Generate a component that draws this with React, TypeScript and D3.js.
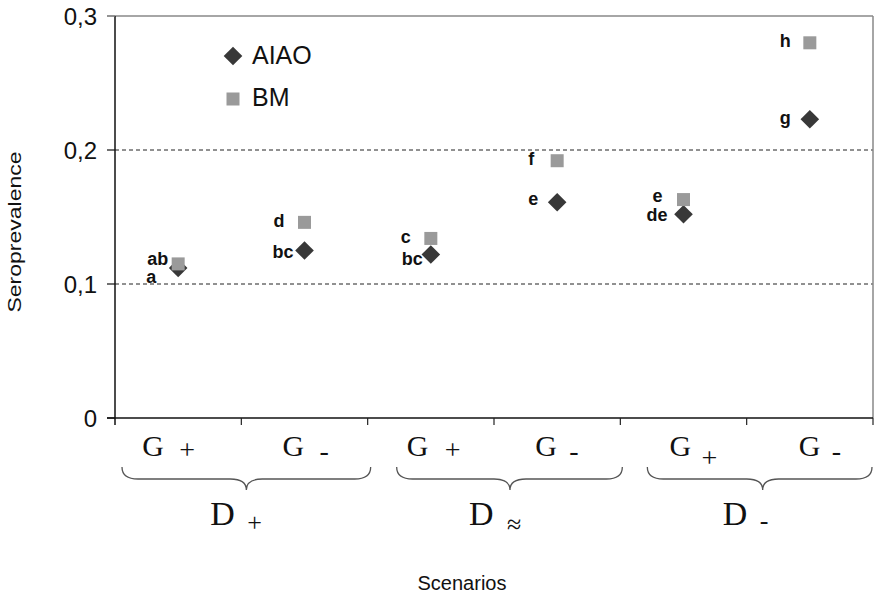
import React from "react";
import * as d3 from "d3";

const categories = ["D+ G+", "D+ G-", "D≈ G+", "D≈ G-", "D- G+", "D- G-"];
const gSigns = ["+", "-", "+", "-", "+", "-"];
const groups = ["+", "≈", "-"];
const groupMembers = [[0, 1], [2, 3], [4, 5]];
const aiao = [0.112, 0.125, 0.122, 0.161, 0.152, 0.223];
const bm = [0.115, 0.146, 0.134, 0.192, 0.163, 0.28];
const aiaoLetters = ["a", "bc", "bc", "e", "de", "g"];
const bmLetters = ["ab", "d", "c", "f", "e", "h"];
const yTicks = [0, 0.1, 0.2, 0.3];
const gridTicks = [0.1, 0.2];
const seriesNames = ["AIAO", "BM"];
const xTitle = "Scenarios";
const yTitle = "Seroprevalence";

// label offsets (style): [dx, dy] relative to the point
const aiaoLabelOff = [[-22, 15], [-11, 7], [-8, 10], [-19, 3], [-16, 7], [-19, 5]];
const bmLabelOff = [[-10, 1], [-20, 5], [-20, 5], [-23, 4], [-21, 2], [-19, 4]];
// G label offsets: [gStart, signStart, signCenterY]
const gLabelOff = [[-36, 1, 452], [-22, 15, 453], [-24, 14, 452], [-22, 12, 453], [-14, 18, 460], [-11, 22, 453]];
// brace offsets [startOff, endOff, tipOff]
const braceOff = [[7, 3, 5], [29, 2, 16], [27, -1, 16]];
// D label offsets [dStart, signStart(after D), signCenterY]
const dLabelOff = [[-31, 13, 524], [-25, 14, 526], [-24, 13, 522]];

const W = 875;
const H = 596;
const left = 115;
const right = 873;
const top = 16;
const bottom = 418;

const DARK = "#383838";
const LIGHT = "#9a9a9a";
const SANS = "'Liberation Sans', Arial, sans-serif";
const SERIF = "'Liberation Serif', 'Times New Roman', serif";

export default function App() {
  const x = d3.scaleBand().domain(categories).range([left, right]).padding(0);
  const y = d3.scaleLinear().domain([0, 0.3]).range([bottom, top]);
  const bw = x.bandwidth();
  const cx = (i: number) => (x(categories[i]) as number) + bw / 2;
  const diamond = d3.symbol().type(d3.symbolDiamond2).size(2 * 10.5 * 10.5)();
  const fmt = (v: number) => (v === 0 ? "0" : d3.format(".1f")(v).replace(".", ","));

  const brace = (x1: number, x2: number, tip: number) => {
    const yT = 467, yM = 479, yP = 490, r = 16;
    return `M${x1},${yT} Q${x1},${yM} ${x1 + r},${yM} L${tip - r},${yM} Q${tip},${yM} ${tip},${yP} Q${tip},${yM} ${tip + r},${yM} L${x2 - r},${yM} Q${x2},${yM} ${x2},${yT}`;
  };

  return (
    <div style={{ position: "fixed", left: 0, top: 0, width: W, height: H, background: "#fff" }}>
      <svg width={W} height={H} viewBox={`0 0 ${W} ${H}`} style={{ display: "block" }}>
        <rect x={0} y={0} width={W} height={H} fill="#ffffff" />
        {/* gridlines */}
        {gridTicks.map((t) => (
          <line key={t} x1={left} x2={right} y1={y(t)} y2={y(t)} stroke="#222" strokeWidth={1} strokeDasharray="4,3" />
        ))}
        {/* top & right border */}
        <line x1={left - 8} x2={right} y1={y(0.3)} y2={y(0.3)} stroke="#888" strokeWidth={1.5} />
        <line x1={right} x2={right} y1={top} y2={bottom} stroke="#888" strokeWidth={1.5} />
        {/* y axis */}
        <line x1={left} x2={left} y1={top} y2={bottom + 7} stroke="#111" strokeWidth={1.5} />
        {yTicks.map((t) => (
          <g key={t}>
            <line x1={left - 8} x2={left} y1={y(t)} y2={y(t)} stroke={t === 0.3 ? "#888" : "#111"} strokeWidth={1.2} />
            <text x={97} y={y(t)} dy="0.36em" textAnchor="end" fontFamily={SANS} fontSize={24} fill="#111">
              {fmt(t)}
            </text>
          </g>
        ))}
        {/* x axis */}
        <line x1={left - 8} x2={right} y1={bottom} y2={bottom} stroke="#111" strokeWidth={1.5} />
        {categories.map((c) => (
          <line key={c} x1={(x(c) as number) + bw} x2={(x(c) as number) + bw} y1={bottom} y2={bottom + 7} stroke="#222" strokeWidth={1.2} />
        ))}
        {/* G labels */}
        {categories.map((c, i) => (
          <g key={"g" + c} fontFamily={SERIF} fill="#111">
            <text x={cx(i) + gLabelOff[i][0]} y={456} fontSize={30}>G</text>
            <text x={cx(i) + gLabelOff[i][1]} y={gLabelOff[i][2]} dy="0.26em" fontSize={28}>{gSigns[i]}</text>
          </g>
        ))}
        {/* braces and D labels */}
        {groups.map((g, gi) => {
          const [a, b] = groupMembers[gi];
          const x1 = x(categories[a]) as number;
          const x2 = (x(categories[b]) as number) + bw;
          const mid = (x1 + x2) / 2;
          const off = braceOff[gi];
          const dOff = dLabelOff[gi];
          return (
            <g key={"grp" + gi}>
              <path d={brace(x1 + off[0], x2 + off[1], mid + off[2])} fill="none" stroke="#555" strokeWidth={1.3} />
              <text x={mid + dOff[0]} y={525} fontFamily={SERIF} fontSize={34} fill="#111">D</text>
              <text x={mid + dOff[0] + 24 + dOff[1]} y={dOff[2]} dy="0.26em" fontFamily={SERIF} fontSize={26} fill="#111">{g}</text>
            </g>
          );
        })}
        {/* points */}
        {categories.map((c, i) => (
          <path key={"a" + c} d={diamond as string} transform={`translate(${cx(i)},${y(aiao[i])})`} fill={DARK} />
        ))}
        {categories.map((c, i) => (
          <rect key={"b" + c} x={cx(i) - 6.5} y={y(bm[i]) - 6.5} width={13} height={13} fill={LIGHT} />
        ))}
        {/* letter labels */}
        {categories.map((c, i) => (
          <g key={"l" + c} fontFamily={SANS} fontWeight="bold" fontSize={18} fill="#111" textAnchor="end">
            <text x={cx(i) + aiaoLabelOff[i][0]} y={y(aiao[i]) + aiaoLabelOff[i][1]}>{aiaoLetters[i]}</text>
            <text x={cx(i) + bmLabelOff[i][0]} y={y(bm[i]) + bmLabelOff[i][1]}>{bmLetters[i]}</text>
          </g>
        ))}
        {/* legend */}
        <path d={diamond as string} transform="translate(233,56)" fill={DARK} />
        <text x={252} y={55} dy="0.36em" fontFamily={SANS} fontSize={25} fill="#111">{seriesNames[0]}</text>
        <rect x={233 - 6.5} y={99 - 6.5} width={13} height={13} fill={LIGHT} />
        <text x={252} y={97} dy="0.36em" fontFamily={SANS} fontSize={25} fill="#111">{seriesNames[1]}</text>
        {/* titles */}
        <text x={462} y={590} textAnchor="middle" fontFamily={SANS} fontSize={20} fill="#111">{xTitle}</text>
        <text
          transform="translate(21,232) rotate(-90)"
          textAnchor="middle"
          fontFamily={SANS}
          fontSize={19}
          fill="#111"
          textLength={161}
          lengthAdjust="spacingAndGlyphs"
        >
          {yTitle}
        </text>
      </svg>
    </div>
  );
}
